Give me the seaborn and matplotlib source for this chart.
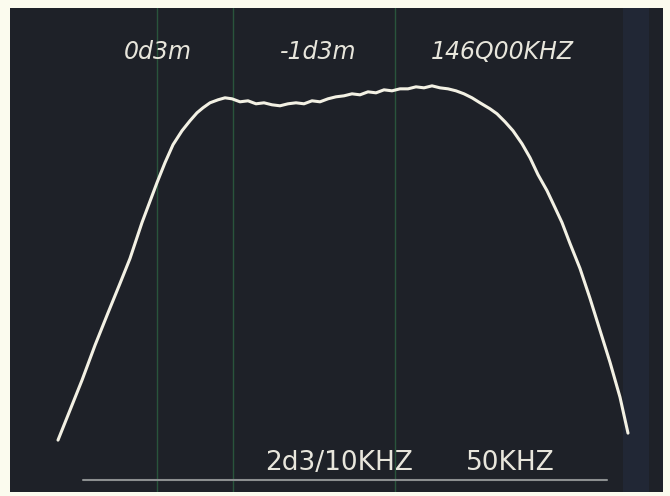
import matplotlib
matplotlib.use('Agg')
import matplotlib.pyplot as plt
import seaborn as sns
import pandas as pd

# Trace: offset from 146000 kHz, level in dB
freq_khz = [-28.7, -27.5, -26.3, -25.0, -23.7, -22.5, -21.5, -20.3, -18.8, -18.0,
            -17.2, -16.3, -15.5, -14.8, -14.2, -13.5, -12.7, -12.0, -11.3, -10.5,
            -9.7, -8.9, -8.1, -7.3, -6.5, -5.7, -4.9, -4.1, -3.3, -2.5,
            -1.7, -0.9, -0.1, 0.7, 1.5, 2.3, 3.1, 3.9, 4.7, 5.5,
            6.3, 7.1, 7.9, 8.7, 9.5, 10.3, 11.1, 11.9, 12.7, 13.5,
            14.5, 15.2, 16.0, 16.8, 17.7, 18.5, 19.3, 20.2, 21.0, 21.7,
            22.5, 23.5, 24.5, 25.5, 26.5, 27.5, 28.3]
level_db = [-14.0, -12.8, -11.6, -10.2, -8.9, -7.72, -6.72, -5.28, -3.68, -2.88,
            -2.16, -1.6, -1.2, -0.88, -0.68, -0.48, -0.36, -0.28, -0.32, -0.44,
            -0.4, -0.52, -0.48, -0.56, -0.6, -0.52, -0.48, -0.52, -0.4, -0.44,
            -0.32, -0.24, -0.2, -0.12, -0.16, -0.04, -0.08, 0.04, 0.0, 0.08,
            0.08, 0.16, 0.12, 0.2, 0.12, 0.08, 0.0, -0.12, -0.28, -0.48,
            -0.72, -0.92, -1.24, -1.6, -2.12, -2.68, -3.36, -4.0, -4.68, -5.28,
            -6.12, -7.12, -8.32, -9.6, -10.88, -12.28, -13.72]

graticule_khz = [-18.8, -11.2, 5.0]
baseline_khz = [-26.2, 26.2]
baseline_db = [-15.6, -15.6]

top_labels = ['0d3m', '-1d3m', '146Q00KHZ']
bottom_labels = ['2d3/10KHZ', '50KHZ']

sns.set_theme(style="dark")
plt.rcParams['font.family'] = ['DejaVu Sans']

fig = plt.figure(figsize=(6.7, 4.96), dpi=100, facecolor='#fbfbee')
ax = fig.add_axes([10 / 670, 4 / 496, 653 / 670, 484 / 496])
ax.set_facecolor('#1e2128')

for xv in graticule_khz:
    ax.axvline(xv, color='#2f6b45', lw=1.0, alpha=0.7)
ax.axvspan(27.8, 30.4, color='#27344f', alpha=0.35, lw=0)

sns.lineplot(x=baseline_khz, y=baseline_db, ax=ax, color='#8c8f90', lw=1.5)

df = pd.DataFrame({'freq': freq_khz, 'level': level_db})
sns.lineplot(data=df, x='freq', y='level', sort=False, ax=ax,
             color='#f3f1e4', lw=2.2)

ax.set_xlim(-33.5, 31.8)
ax.set_ylim(-16.08, 3.32)
ax.set_xticks([])
ax.set_yticks([])
ax.set_xlabel('')
ax.set_ylabel('')
for s in ax.spines.values():
    s.set_visible(False)

for lbl, px in zip(top_labels, [158, 318, 502]):
    fig.text(px / 670, 1 - 52 / 496, lbl, color='#e8e6dc', fontsize=17,
             style='italic', ha='center', va='center')
for lbl, px in zip(bottom_labels, [339, 510]):
    fig.text(px / 670, 1 - 463 / 496, lbl, color='#e8e6dc', fontsize=19,
             ha='center', va='center')

plt.savefig('out.png', dpi=100, facecolor=fig.get_facecolor())
plt.close()
